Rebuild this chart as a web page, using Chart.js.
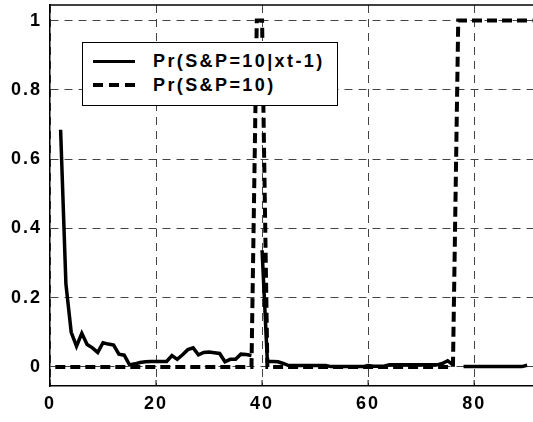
<!DOCTYPE html>
<html>
<head>
<meta charset="utf-8">
<script src="https://cdn.jsdelivr.net/npm/chart.js@4.4.1/dist/chart.umd.min.js"></script>
<style>
  body { margin: 0; background: #fff; }
  #wrap { position: relative; width: 533px; height: 422px; }
  #legend {
    position: absolute; left: 82px; top: 42px; width: 256px; height: 64px;
    box-sizing: border-box; border: 1px solid #000; background: #fff;
    padding-top: 6px; font: bold 18px 'Liberation Sans', Arial, sans-serif;
    letter-spacing: 2.4px; color: #000; z-index: 2;
  }
  .row { height: 24px; display: flex; align-items: center; white-space: nowrap; }
  .swatch { width: 42px; margin-left: 10px; margin-right: 18px; height: 3px; background: #000; }
  .swatch.dash { height: 4px; background: repeating-linear-gradient(90deg, #000 0 10px, transparent 10px 16px); }
</style>
</head>
<body>
<div id="wrap">
  <canvas id="chart" width="533" height="422"></canvas>
  <div id="legend">
    <div class="row"><span class="swatch"></span><span>Pr(S&amp;P=10|xt-1)</span></div>
    <div class="row"><span class="swatch dash"></span><span>Pr(S&amp;P=10)</span></div>
  </div>
</div>
<script>
// time index 1..91
const steps = Array.from({ length: 91 }, (_, i) => i + 1);

// Pr(S&P=10 | xt-1)
const condProb = [
  null, 0.685, 0.24, 0.1, 0.06, 0.097, 0.065, 0.055, 0.042, 0.07,
  0.066, 0.063, 0.037, 0.034, 0.006, 0.009, 0.013, 0.015, 0.016, 0.016,
  0.016, 0.016, 0.033, 0.022, 0.035, 0.05, 0.055, 0.035, 0.042, 0.043,
  0.041, 0.039, 0.015, 0.022, 0.022, 0.037, 0.036, 0.033, null, 0.337,
  0.016, 0.016, 0.015, 0.01, 0.004, 0.004, 0.004, 0.004, 0.004, 0.004,
  0.004, 0.004, 0.001, 0.001, 0.001, 0.001, 0.001, 0.001, 0.001, 0.004,
  0.002, 0.002, 0.002, 0.006, 0.006, 0.006, 0.006, 0.006, 0.006, 0.006,
  0.006, 0.006, 0.006, 0.01, 0.018, 0.006, null, 0.001, 0.001, 0.001,
  0.001, 0.001, 0.001, 0.001, 0.001, 0.001, 0.001, 0.001, 0.001, 0.005,
  null
];

// Pr(S&P=10)
const stateProb = [
  0, 0, 0, 0, 0, 0, 0, 0, 0, 0,
  0, 0, 0, 0, 0, 0, 0, 0, 0, 0,
  0, 0, 0, 0, 0, 0, 0, 0, 0, 0,
  0, 0, 0, 0, 0, 0, 0, 0, 1, 1,
  0, 0, 0, 0, 0, 0, 0, 0, 0, 0,
  0, 0, 0, 0, 0, 0, 0, 0, 0, 0,
  0, 0, 0, 0, 0, 0, 0, 0, 0, 0,
  0, 0, 0, 0, 0, 0, 1, 1, 1, 1,
  1, 1, 1, 1, 1, 1, 1, 1, 1, 1,
  1
];

const xTicks = [0, 20, 40, 60, 80];
const yTicks = [0, 0.2, 0.4, 0.6, 0.8, 1];

const tickFont = { family: "'Liberation Sans', Arial, sans-serif", size: 18, weight: 'bold' };

// top frame line, inner tick marks, wide letter spacing
const framePlugin = {
  id: 'frame',
  beforeUpdate(chart) { chart.ctx.letterSpacing = '2px'; },
  beforeDraw(chart) { chart.ctx.letterSpacing = '2px'; },
  afterDraw(chart) {
    const { ctx, chartArea: a, scales } = chart;
    ctx.save();
    ctx.strokeStyle = '#000';
    ctx.lineWidth = 1.5;
    ctx.beginPath();
    ctx.moveTo(a.left, a.top);
    ctx.lineTo(a.right, a.top);
    ctx.stroke();
    ctx.lineWidth = 1;
    xTicks.forEach(v => {
      const px = scales.x.getPixelForValue(v);
      ctx.beginPath();
      ctx.moveTo(px, a.bottom);
      ctx.lineTo(px, a.bottom - 6);
      ctx.stroke();
    });
    ctx.restore();
  }
};

new Chart(document.getElementById('chart'), {
  type: 'line',
  data: {
    labels: steps,
    datasets: [
      {
        label: 'Pr(S&P=10|xt-1)',
        data: condProb,
        borderColor: '#000',
        borderWidth: 3.5,
        pointRadius: 0,
        tension: 0,
        spanGaps: false
      },
      {
        label: 'Pr(S&P=10)',
        data: stateProb,
        borderColor: '#000',
        borderWidth: 4,
        borderDash: [10, 5],
        borderCapStyle: 'butt',
        pointRadius: 0,
        tension: 0
      }
    ]
  },
  options: {
    responsive: false,
    animation: false,
    layout: { padding: { top: 5, right: 0, left: 0, bottom: 0 } },
    plugins: { legend: { display: false }, tooltip: { enabled: false } },
    scales: {
      x: {
        type: 'linear',
        min: 0,
        max: 91.1,
        afterBuildTicks: s => { s.ticks = xTicks.map(v => ({ value: v })); },
        afterFit: s => { s.height = 36; s.paddingLeft = 0; s.paddingRight = 0; },
        ticks: { font: tickFont, color: '#000', padding: 7, maxRotation: 0, callback: v => String(v) },
        grid: { color: '#444', lineWidth: 1, drawTicks: false },
        border: { display: true, color: '#000', width: 1.5, dash: [8, 6] }
      },
      y: {
        min: -0.055,
        max: 1.045,
        afterBuildTicks: s => { s.ticks = yTicks.map(v => ({ value: v })); },
        afterFit: s => { s.width = 50; s.paddingTop = 0; s.paddingBottom = 0; },
        ticks: { font: tickFont, color: '#000', padding: 8, callback: v => String(v) },
        grid: { color: '#444', lineWidth: 1, drawTicks: false },
        border: { display: true, color: '#000', width: 1.5, dash: [8, 6] }
      }
    }
  },
  plugins: [framePlugin]
});
</script>
</body>
</html>
